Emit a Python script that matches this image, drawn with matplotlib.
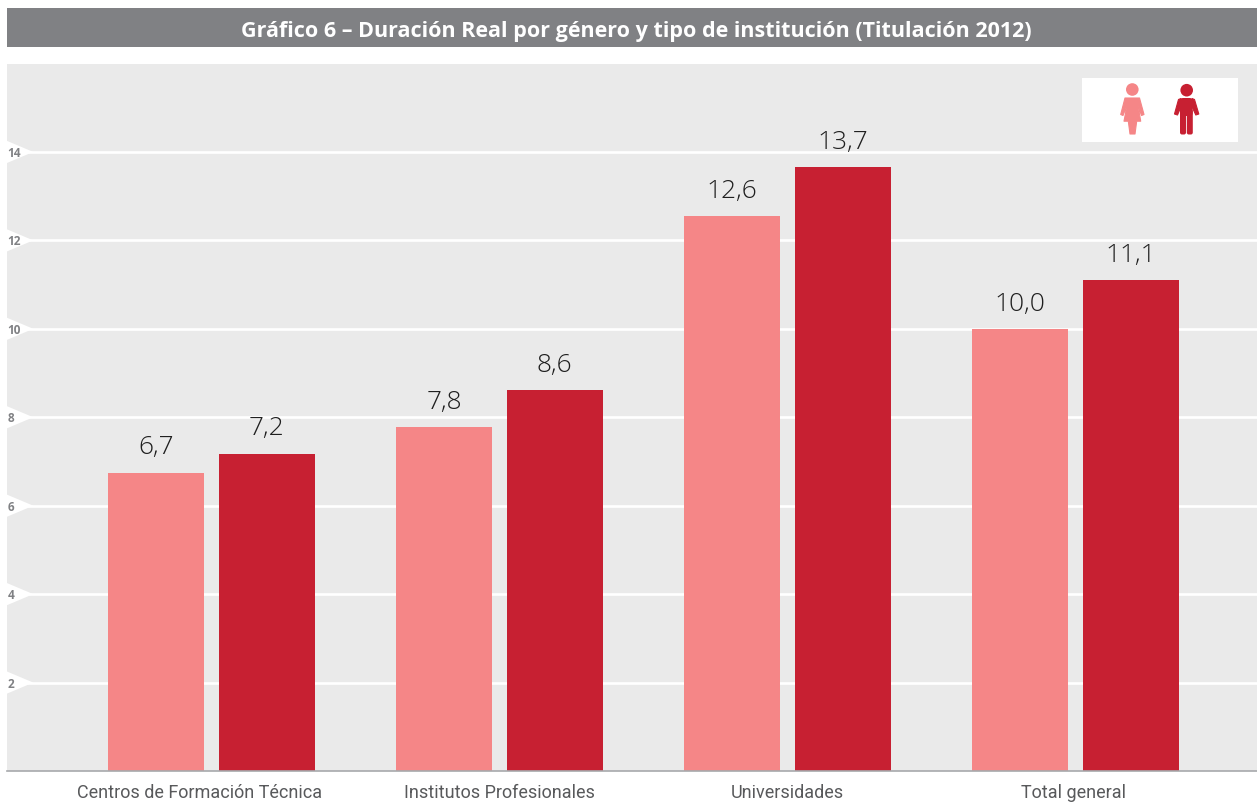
import matplotlib
matplotlib.use("Agg")
import matplotlib.pyplot as plt
from matplotlib.patches import Circle, FancyBboxPatch, Polygon, Rectangle
from matplotlib.transforms import ScaledTranslation, blended_transform_factory
import numpy as np

categories = ["Centros de Formación Técnica", "Institutos Profesionales", "Universidades", "Total general"]
mujeres = [6.75, 7.77, 12.55, 10.0]
hombres = [7.18, 8.62, 13.66, 11.1]
labels_mujeres = ["6,7", "7,8", "12,6", "10,0"]
labels_hombres = ["7,2", "8,6", "13,7", "11,1"]
y_ticks = [2, 4, 6, 8, 10, 12, 14]

PINK = "#f58687"
RED = "#c72032"
PANEL = "#eaeaea"
W, H = 1257, 803

plt.rcParams["font.family"] = ["Open Sans", "DejaVu Sans"]

fig = plt.figure(figsize=(W / 100, H / 100), dpi=100, facecolor="white")
ax = fig.add_axes([7 / W, 1 - 772 / H, 1250 / W, 707.5 / H], facecolor=PANEL)

x = np.arange(len(categories))
ax.set_xlim(-0.709, 3.631)
ax.set_ylim(0, 16)

# white gridlines, with the little notch that holds each tick number
notch = blended_transform_factory(ax.transAxes, ax.transData)
for t in y_ticks:
    ax.axhline(t, color="white", lw=1.9, zorder=1)
    ax.add_patch(Polygon([(0, t + 0.25), (0.021, t), (0, t - 0.25)], closed=True,
                         transform=notch, fc="white", ec="none", zorder=1))
    ax.text(0.0002, t - 0.01, str(t), transform=notch, ha="left", va="center",
            fontsize=8.5, fontweight="bold", color="#808184", zorder=3)

ax.bar(x - 0.191, mujeres, width=1 / 3, color=PINK, zorder=2)
ax.bar(x + 0.193, hombres, width=1 / 3, color=RED, zorder=2)

for i in x:
    ax.text(i - 0.191, mujeres[i] + 0.30, labels_mujeres[i], ha="center", va="bottom",
            fontsize=19, fontweight="light", color="#1f1f1f")
    ax.text(i + 0.193, hombres[i] + 0.30, labels_hombres[i], ha="center", va="bottom",
            fontsize=19, fontweight="light", color="#1f1f1f")

ax.set_xticks(x)
ax.set_xticklabels(categories, fontsize=13, fontfamily="Roboto", color="#58595b")
ax.set_yticks([])
ax.tick_params(axis="x", length=0, pad=9)
# first and last labels sit a bit left of their groups in the original
for lab, dx in zip(ax.get_xticklabels(), [-11.5, 0, 0, -2]):
    lab.set_transform(lab.get_transform() + ScaledTranslation(dx / 100, 0, fig.dpi_scale_trans))
for s in ["top", "left", "right"]:
    ax.spines[s].set_visible(False)
ax.spines["bottom"].set_color("#a7a9ac")
ax.spines["bottom"].set_linewidth(1.2)

# overlay in pixel coordinates for the header band and the legend icons
ov = fig.add_axes([0, 0, 1, 1], facecolor="none")
ov.set_xlim(0, W)
ov.set_ylim(H, 0)
ov.axis("off")

ov.add_patch(Rectangle((7, 8.6), 1250, 39.6, fc="#808184", ec="none"))
ov.text(636, 31, "Gráfico 6 – Duración Real por género y tipo de institución (Titulación 2012)",
        ha="center", va="center", fontsize=15.5, fontweight="bold", color="white")

ov.add_patch(Rectangle((1082, 78.6), 156, 64, fc="white", ec="none"))

# woman
ov.add_patch(Circle((1132.3, 90.5), 6.3, fc=PINK, ec="none"))
ov.add_patch(Polygon([(1125, 99), (1139.5, 99), (1144, 115.5), (1141.5, 116.5), (1138, 106.5),
                      (1140.7, 122.2), (1136.7, 122.2), (1135, 135), (1130, 135), (1128.3, 122.2),
                      (1124, 122.2), (1127, 106.5), (1123, 116.5), (1120.7, 115.5)],
                     closed=True, fc=PINK, ec=PINK, lw=0.8, joinstyle="round"))
# man
ov.add_patch(Circle((1186.7, 91.2), 6.3, fc=RED, ec="none"))
ov.add_patch(FancyBboxPatch((1180, 99), 12.7, 18, boxstyle="round,pad=0,rounding_size=3", fc=RED, ec="none"))
ov.add_patch(FancyBboxPatch((1180, 110.5), 6, 25, boxstyle="round,pad=0,rounding_size=2", fc=RED, ec="none"))
ov.add_patch(FancyBboxPatch((1186.8, 110.5), 6, 25, boxstyle="round,pad=0,rounding_size=2", fc=RED, ec="none"))
ov.add_patch(Polygon([(1181, 99.5), (1178.5, 100.5), (1174.5, 115), (1177.5, 116), (1182, 105.5)],
                     closed=True, fc=RED, ec=RED, lw=0.8, joinstyle="round"))
ov.add_patch(Polygon([(1192, 99.5), (1194.5, 100.5), (1198.8, 115), (1195.8, 116), (1191, 105.5)],
                     closed=True, fc=RED, ec=RED, lw=0.8, joinstyle="round"))

fig.savefig("out.png", dpi=100)
